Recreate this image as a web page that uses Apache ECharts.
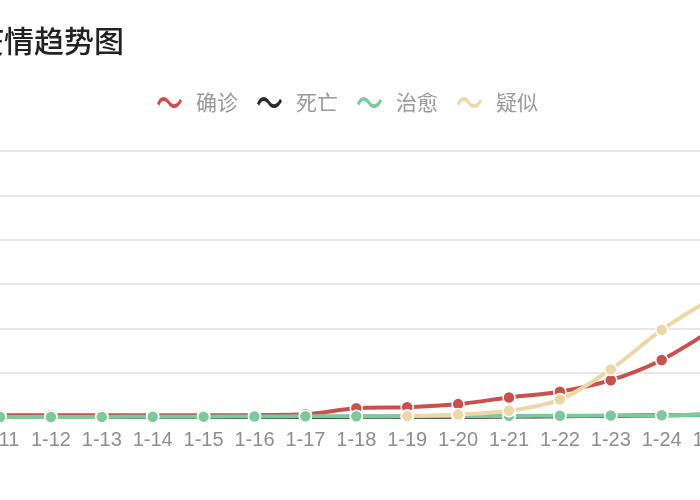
<!DOCTYPE html>
<html>
<head>
<meta charset="utf-8">
<script src="https://cdn.jsdelivr.net/npm/echarts@6/dist/echarts.min.js"></script>
<style>
html,body{margin:0;padding:0;background:#fff;overflow:hidden;width:700px;height:500px;}
#chart{position:absolute;left:-80px;top:0;width:900px;height:500px;}
</style>
</head>
<body>
<div id="chart"></div>
<script>
const titleText = '疫情趋势图';
const seriesNames = ['确诊', '死亡', '治愈', '疑似'];
const categories = ['1-11','1-12','1-13','1-14','1-15','1-16','1-17','1-18','1-19','1-20','1-21','1-22','1-23','1-24','1-25'];
const confirmed = [41, 41, 41, 41, 41, 45, 62, 200, 220, 291, 440, 571, 830, 1287, 1975];
const deaths    = [1, 1, 1, 1, 2, 2, 2, 3, 3, 6, 9, 17, 25, 41, 56];
const cured     = [0, 0, 2, 5, 8, 12, 15, 17, 20, 25, 25, 28, 34, 38, 49];
const suspected = ['-', '-', '-', '-', '-', '-', '-', '-', 20, 54, 140, 393, 1072, 1965, 2684];
const yTicks = { min: 0, max: 6000, interval: 1000 };

const colors = ['#c9504c', '#2b2b2b', '#7cc99c', '#ebd8a6'];
const wave = 'path://M0,7 C3,-1 8,-1 12,4.5 C15,9 19,9 22,2.5 L24,4.5 C20,13 14,13 11,8 C8,3.5 4,3 2.2,9.2 Z';
const font = "'Liberation Sans','Noto Sans CJK SC',sans-serif";
const cjk = "'Noto Sans CJK SC',sans-serif";

const datasets = [confirmed, deaths, cured, suspected];
const chart = echarts.init(document.getElementById('chart'));
chart.setOption({
  backgroundColor: '#fff',
  animation: false,
  color: colors,
  title: {
    text: titleText, left: 54, top: 26, padding: 0,
    textStyle: { fontSize: 30, fontWeight: 500, color: '#222', fontFamily: cjk }
  },
  legend: {
    data: seriesNames.map(n => ({ name: n, icon: wave })),
    left: 237, top: 92, padding: 0,
    itemWidth: 25, itemHeight: 12, itemGap: 19,
    itemStyle: { borderWidth: 0 },
    lineStyle: { width: 0 },
    textStyle: { fontSize: 21, color: '#999', fontFamily: cjk, padding: [0, 0, 0, 9] }
  },
  grid: { left: 80, right: 107.4, top: 151, bottom: 83, containLabel: false, outerBoundsMode: 'none' },
  xAxis: {
    type: 'category', boundaryGap: false, data: categories,
    axisLine: { show: false }, axisTick: { show: false },
    axisLabel: { interval: 0, margin: 13, fontSize: 20, color: '#8e8e8e', fontFamily: font }
  },
  yAxis: {
    type: 'value', min: yTicks.min, max: yTicks.max, interval: yTicks.interval,
    axisLine: { show: false }, axisTick: { show: false },
    axisLabel: { fontSize: 18, color: '#999', fontFamily: font },
    splitLine: { lineStyle: { color: '#e0e0e0', width: 1.5 } }
  },
  series: seriesNames.map((n, i) => ({
    name: n, type: 'line', data: datasets[i],
    smooth: 0.3, symbol: 'circle', symbolSize: 12, showAllSymbol: true,
    lineStyle: { width: 4, color: colors[i] },
    itemStyle: { color: colors[i], borderColor: '#fff', borderWidth: 1.5 }
  }))
});
</script>
</body>
</html>
